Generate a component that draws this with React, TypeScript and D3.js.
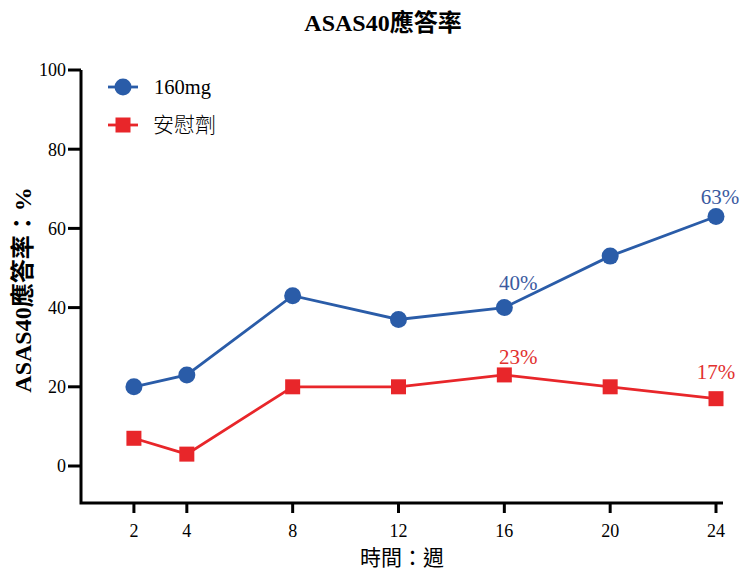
import React from "react";
import * as d3 from "d3";

const weeks = [2, 4, 8, 12, 16, 20, 24];
const dose160 = [20, 23, 43, 37, 40, 53, 63];
const placebo = [7, 3, 20, 20, 23, 20, 17];
const xTicks = [2, 4, 8, 12, 16, 20, 24];
const yTicks = [0, 20, 40, 60, 80, 100];
const seriesNames = ["160mg", "安慰劑"];
const blueLabels = [{ week: 16, value: 40, text: "40%" }, { week: 24, value: 63, text: "63%" }];
const redLabels = [{ week: 16, value: 23, text: "23%" }, { week: 24, value: 17, text: "17%" }];

const W = 742, H = 573;
const BLUE = "#2a5ca8";
const RED = "#e8262a";
const BLUE_TXT = "#3b5a9f";
const RED_TXT = "#e2312f";
const SERIF = "'Liberation Serif', 'Times New Roman', 'Noto Sans CJK TC', serif";
const CJK = "'Noto Sans CJK TC', sans-serif";
// label offsets (dx, dy) relative to the point
const blueOffsets = [[14, -18], [4, -13]];
const redOffsets = [[14, -11], [0, -20]];

export default function App() {
  const x = d3.scaleLinear().domain([0, 24]).range([81, 716]);
  const y = d3.scaleLinear().domain([0, 100]).range([466, 70]);
  const yBottom = 503;
  const line = d3.line<number>().x((_, i) => x(weeks[i])).y((d) => y(d));

  return (
    <svg width={W} height={H} style={{ position: "absolute", left: 0, top: 0, background: "#fff" }}>
      <text x={383} y={31} textAnchor="middle" fontFamily={SERIF} fontWeight="bold" fontSize={24}>
        ASAS40應答率
      </text>
      {/* axes */}
      <path d={`M${x(0)},${y(100)} V${yBottom} H${x(24) + 7}`} fill="none" stroke="#000" strokeWidth={3} />
      {yTicks.map((t) => (
        <g key={t}>
          <line x1={x(0) - 13} x2={x(0)} y1={y(t)} y2={y(t)} stroke="#000" strokeWidth={3} />
          <text x={x(0) - 15} y={y(t)} dy="0.35em" textAnchor="end" fontFamily={SERIF} fontSize={18}>{t}</text>
        </g>
      ))}
      {xTicks.map((t) => (
        <g key={t}>
          <line x1={x(t)} x2={x(t)} y1={yBottom} y2={yBottom + 10} stroke="#000" strokeWidth={3} />
          <text x={x(t)} y={yBottom + 34} textAnchor="middle" fontFamily={SERIF} fontSize={18}>{t}</text>
        </g>
      ))}
      <text x={402} y={565} textAnchor="middle" fontFamily={CJK} fontWeight={400} fontSize={21}>時間：週</text>
      <text transform={`translate(31,${290}) rotate(-90)`} textAnchor="middle" fontFamily={SERIF} fontWeight="bold" fontSize={24}>
        ASAS40應答率：%
      </text>

      {/* series */}
      <path d={line(dose160) || ""} fill="none" stroke={BLUE} strokeWidth={2.8} />
      {dose160.map((v, i) => (
        <circle key={i} cx={x(weeks[i])} cy={y(v)} r={8.5} fill={BLUE} />
      ))}
      <path d={line(placebo) || ""} fill="none" stroke={RED} strokeWidth={2.8} />
      {placebo.map((v, i) => (
        <rect key={i} x={x(weeks[i]) - 7.5} y={y(v) - 7.5} width={15} height={15} fill={RED} />
      ))}

      {blueLabels.map((l, i) => (
        <text key={l.text} x={x(l.week) + blueOffsets[i][0]} y={y(l.value) + blueOffsets[i][1]} textAnchor="middle" fontFamily={SERIF} fontSize={21} fill={BLUE_TXT}>{l.text}</text>
      ))}
      {redLabels.map((l, i) => (
        <text key={l.text} x={x(l.week) + redOffsets[i][0]} y={y(l.value) + redOffsets[i][1]} textAnchor="middle" fontFamily={SERIF} fontSize={21} fill={RED_TXT}>{l.text}</text>
      ))}

      {/* legend */}
      <line x1={108} x2={138} y1={87} y2={87} stroke={BLUE} strokeWidth={2.8} />
      <circle cx={123} cy={87} r={8.5} fill={BLUE} />
      <text x={154} y={87} dy="0.35em" fontFamily={SERIF} fontSize={20.5}>{seriesNames[0]}</text>
      <line x1={108} x2={138} y1={125} y2={125} stroke={RED} strokeWidth={2.8} />
      <rect x={115.5} y={117.5} width={15} height={15} fill={RED} />
      <text x={153} y={125} dy="0.35em" fontFamily={CJK} fontWeight={300} fontSize={21}>{seriesNames[1]}</text>
    </svg>
  );
}
